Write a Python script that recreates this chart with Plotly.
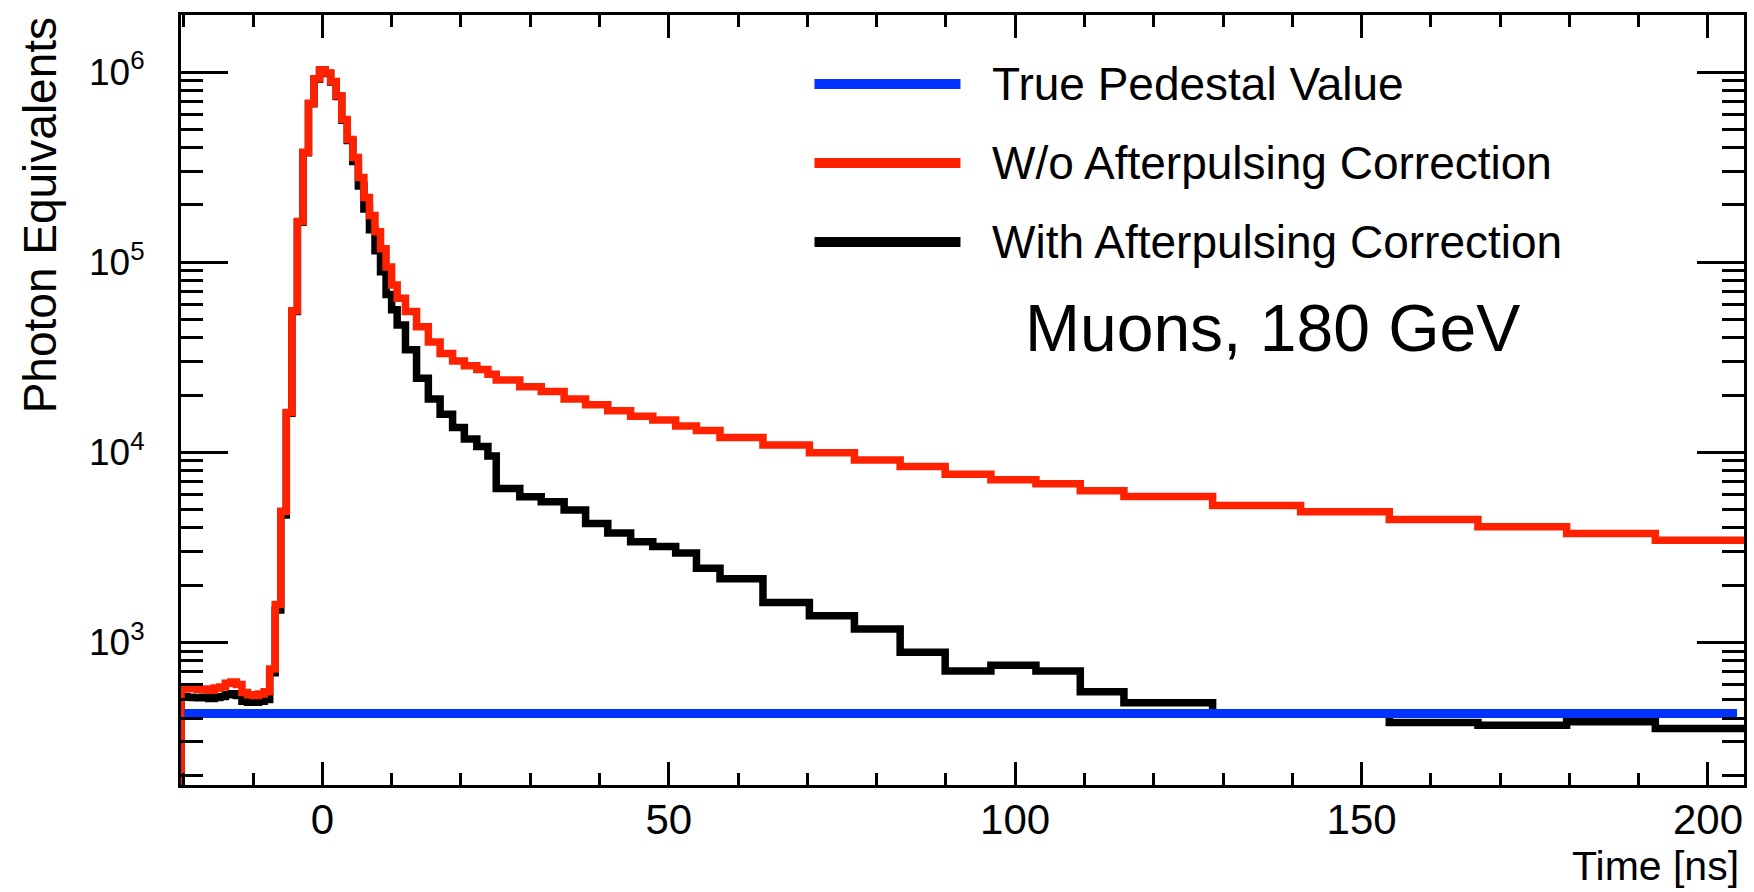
import plotly.graph_objects as go

# ---------------- data ----------------
bin_edges = [
    -20.4, -19.6, -18.8, -18.0, -17.2, -16.4, -15.6, -14.8, -14.0, -13.2,
    -12.4, -11.6, -10.8, -10.0, -9.2, -8.4, -7.6, -6.8, -6.0, -5.2,
    -4.4, -3.6, -2.8, -2.0, -1.2, -0.4, 0.4, 1.2, 2.0, 2.8,
    3.6, 4.4, 5.2, 6.0, 6.8, 7.6, 8.4, 9.2, 10.0, 10.8,
    12.0, 13.6, 15.3, 17.0, 18.8, 20.5, 22.3, 23.9, 25.1, 28.5,
    31.6, 34.9, 38.0, 41.2, 44.5, 47.7, 51.0, 54.0, 57.4, 63.6,
    70.3, 76.8, 83.4, 89.9, 96.5, 103.0, 109.4, 115.7, 128.5, 141.2,
    154.0, 166.8, 179.6, 192.4, 205.2,
]

without_correction = [
    575, 570, 573, 565, 569, 560, 575, 582, 610, 619,
    600, 545, 530, 525, 535, 550, 724, 1585, 4900, 16200,
    55600, 163700, 378400, 685500, 922600, 1028000, 988600, 891300, 749900, 562300,
    441600, 354800, 278600, 218800, 175800, 144500, 117500, 94400, 75900,
    64570, 54950, 45710, 38020, 33110, 30200, 28510, 27230, 25700, 23990,
    22130, 20890, 19050, 17780, 16520, 15490, 14790, 13740, 13030, 11970,
    10910, 9954, 9120, 8414, 7674, 7161, 6823, 6281, 5848, 5248,
    4864, 4436, 4055, 3741, 3451,
]

with_correction = [
    519, 515, 513, 511, 515, 507, 513, 519, 531, 537,
    525, 490, 484, 484, 490, 501, 692, 1479, 4677, 16030,
    54950, 162200, 375800, 680800, 916200, 1023000, 981700, 885100, 744700, 558500,
    436500, 338800, 251200, 190500, 147900, 114800, 89130, 67610, 56230,
    46770, 34670, 24550, 19050, 15850, 13490, 11750, 10720, 9550, 6457,
    5834, 5495, 4966, 4227, 3758, 3388, 3199, 2951, 2455, 2163,
    1622, 1380, 1175, 887, 708, 759, 708, 550, 482, 423,
    421, 379, 367, 383, 353,
]

pedestal_value = 423
pedestal_time = [-19.9, 204.2]
baseline = 1  # histogram outline starts from zero level (below the axis)

x_tick_values = [0, 50, 100, 150, 200]
y_tick_values = [1e3, 1e4, 1e5, 1e6]
y_tick_text = ["10<sup>3</sup>", "10<sup>4</sup>", "10<sup>5</sup>", "10<sup>6</sup>"]

legend_labels = ["True Pedestal Value", "W/o Afterpulsing Correction", "With Afterpulsing Correction"]
annotation_text = "Muons, 180 GeV"
x_title = "Time [ns]"
y_title = "Photon Equivalents"

# ---------------- style ----------------
BLUE = "#0033ff"
RED = "#ff2200"
BLACK = "#000000"
FONT = "Liberation Sans, Arial, Helvetica, sans-serif"
LW = 7.5


def step_xy(edges, values):
    xs = [edges[0]] + list(edges)
    ys = [baseline] + list(values) + [values[-1]]
    return xs, ys


fig = go.Figure()

xb, yb = step_xy(bin_edges, with_correction)
fig.add_trace(go.Scatter(x=xb, y=yb, mode="lines", line=dict(color=BLACK, width=LW, shape="hv"),
                         name=legend_labels[2], showlegend=False))
xr, yr = step_xy(bin_edges, without_correction)
fig.add_trace(go.Scatter(x=xr, y=yr, mode="lines", line=dict(color=RED, width=LW, shape="hv"),
                         name=legend_labels[1], showlegend=False))
fig.add_trace(go.Scatter(x=pedestal_time, y=[pedestal_value, pedestal_value], mode="lines",
                         line=dict(color=BLUE, width=9), name=legend_labels[0], showlegend=False))

axis_common = dict(
    showline=True, linewidth=3, linecolor="black", mirror="allticks",
    ticks="inside", tickcolor="black", tickwidth=3,
    showgrid=False, zeroline=False,
)

fig.update_xaxes(
    range=[-20.4, 205.2], tickvals=x_tick_values, ticklen=23,
    tickfont=dict(family=FONT, size=42, color="black"), ticklabelstandoff=-4,
    minor=dict(dtick=10, tick0=0, ticks="inside", ticklen=12, tickwidth=3, tickcolor="black", showgrid=False),
    **axis_common,
)
fig.update_yaxes(
    type="log", range=[2.25, 6.30], tickvals=y_tick_values, ticktext=y_tick_text, ticklen=47,
    tickfont=dict(family=FONT, size=37, color="black"), ticklabelstandoff=26,
    minor=dict(dtick="D1", ticks="inside", ticklen=22, tickwidth=3, tickcolor="black", showgrid=False),
    **axis_common,
)

# legend drawn as a ROOT-style box-less legend
legend_colors = [BLUE, RED, BLACK]
legend_rows_y = [0.9104, 0.8078, 0.7052]
shapes = []
annotations = []
for lab, col, yy in zip(legend_labels, legend_colors, legend_rows_y):
    shapes.append(dict(type="line", xref="paper", yref="paper", x0=0.4053, x1=0.4987, y0=yy, y1=yy,
                       line=dict(color=col, width=10)))
    annotations.append(dict(xref="paper", yref="paper", x=0.5177, y=yy, xanchor="left", yanchor="middle",
                            text=lab, showarrow=False, font=dict(family=FONT, size=46, color="black")))

annotations.append(dict(xref="paper", yref="paper", x=0.6985, y=0.5929, xanchor="center", yanchor="middle",
                        text=annotation_text, showarrow=False, font=dict(family=FONT, size=66, color="black")))
annotations.append(dict(xref="paper", yref="paper", x=1.0, y=-0.105, xanchor="right", yanchor="middle",
                        xshift=-3, text=x_title, showarrow=False, font=dict(family=FONT, size=41, color="black")))
annotations.append(dict(xref="paper", yref="paper", x=-0.09, y=1.0, xanchor="center", yanchor="top",
                        textangle=-90, text=y_title, showarrow=False, font=dict(family=FONT, size=46, color="black")))

fig.update_layout(
    width=1754, height=892,
    margin=dict(l=181, r=7, t=15, b=107),
    plot_bgcolor="white", paper_bgcolor="white",
    showlegend=False, shapes=shapes, annotations=annotations,
    font=dict(family=FONT, color="black"),
)

fig.write_html("out.html")
